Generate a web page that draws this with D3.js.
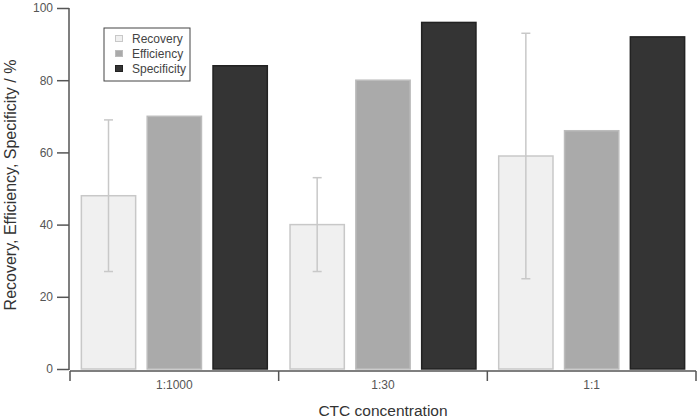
<!DOCTYPE html>
<html><head><meta charset="utf-8">
<script src="https://cdn.jsdelivr.net/npm/d3@7"></script>
<style>body{margin:0;background:#fff;} text{font-family:"Liberation Sans",Arial,sans-serif;}</style>
</head><body>
<svg id="c" width="700" height="419"></svg>
<script>
const categories = ["1:1000", "1:30", "1:1"];
const seriesNames = ["Recovery", "Efficiency", "Specificity"];
const recovery = [48, 40, 59];
const recoveryLow = [27, 27, 25];
const recoveryHigh = [69, 53, 93];
const efficiency = [70, 80, 66];
const specificity = [84, 96, 92];
const yTicks = [0, 20, 40, 60, 80, 100];

const fills = {Recovery:"#f0f0f0", Efficiency:"#aaaaaa", Specificity:"#343434"};
const strokes = {Recovery:"#c8c8c8", Efficiency:"#bcbcbc", Specificity:"#222222"};
const values = {Recovery:recovery, Efficiency:efficiency, Specificity:specificity};

const svg = d3.select("#c");
const x0 = d3.scaleBand().domain(categories).range([70, 696]).padding(0);
const x1 = d3.scaleBand().domain(seriesNames).range([0, x0.bandwidth()]).paddingInner(0.16).paddingOuter(0.165);
const y = d3.scaleLinear().domain([0, 100]).range([369, 8]);

const data = [];
categories.forEach((c, i) => seriesNames.forEach(s => data.push({c, s, v: values[s][i], i})));

svg.selectAll("rect.bar").data(data).enter().append("rect")
  .attr("x", d => x0(d.c) + x1(d.s) + 0.5)
  .attr("y", d => y(d.v))
  .attr("width", x1.bandwidth() - 1)
  .attr("height", d => y(0) - y(d.v))
  .attr("fill", d => fills[d.s])
  .attr("stroke", d => strokes[d.s])
  .attr("stroke-width", 1.5);

// error bars
const eb = svg.append("g").attr("stroke", "#c8c8c8").attr("stroke-width", 1.5);
categories.forEach((c, i) => {
  const cx = x0(c) + x1("Recovery") + x1.bandwidth() / 2;
  eb.append("line").attr("x1", cx).attr("x2", cx).attr("y1", y(recoveryLow[i])).attr("y2", y(recoveryHigh[i]));
  [recoveryLow[i], recoveryHigh[i]].forEach(v => {
    eb.append("line").attr("x1", cx - 4.5).attr("x2", cx + 4.5).attr("y1", y(v)).attr("y2", y(v));
  });
});

// y axis
const yAxis = svg.append("g").attr("transform", "translate(69,0)")
  .call(d3.axisLeft(y).tickValues(yTicks).tickSize(12).tickPadding(4));
yAxis.select(".domain").attr("stroke", "#555").attr("stroke-width", 1.5).attr("d", "M0," + y(100) + "V" + (y(0) + 1));
yAxis.selectAll(".tick line").attr("stroke", "#555").attr("stroke-width", 1.5);
yAxis.selectAll(".tick text").attr("fill", "#555").style("font-size", "12px").style("font-family", "'Liberation Sans',Arial,sans-serif");

// x axis
const xAxisG = svg.append("g").attr("transform", "translate(0,371)");
xAxisG.append("line").attr("x1", 70).attr("x2", 696).attr("y1", 0).attr("y2", 0).attr("stroke", "#555").attr("stroke-width", 1.5);
const bounds = [x0(categories[0])].concat(categories.map(c => x0(c) + x0.bandwidth()));
xAxisG.selectAll("line.t").data(bounds).enter().append("line")
  .attr("x1", d => d).attr("x2", d => d).attr("y1", 0).attr("y2", 10)
  .attr("stroke", "#555").attr("stroke-width", 1.5);
xAxisG.selectAll("text").data(categories).enter().append("text")
  .attr("x", d => x0(d) + x0.bandwidth() / 2).attr("y", 18)
  .attr("text-anchor", "middle").attr("fill", "#555").style("font-size", "12px").text(d => d);

// axis titles
svg.append("text").attr("x", 383).attr("y", 416).attr("text-anchor", "middle")
  .attr("fill", "#333").style("font-size", "15.5px").text("CTC concentration");
svg.append("text").attr("transform", "translate(16,185) rotate(-90)").attr("text-anchor", "middle")
  .attr("fill", "#333").style("font-size", "16px").text("Recovery, Efficiency, Specificity / %");

// legend
const lg = svg.append("g");
lg.append("rect").attr("x", 104).attr("y", 28).attr("width", 86).attr("height", 53)
  .attr("fill", "#fff").attr("stroke", "#444").attr("stroke-width", 1);
seriesNames.forEach((s, k) => {
  const cy = 38.5 + k * 15;
  lg.append("rect").attr("x", 115.5).attr("y", cy - 3).attr("width", 7).attr("height", 6)
    .attr("fill", fills[s]).attr("stroke", strokes[s]).attr("stroke-width", 1);
  lg.append("text").attr("x", 132).attr("y", cy + 4.5).attr("fill", "#444").style("font-size", "12px").text(s);
});
</script>
</body></html>
